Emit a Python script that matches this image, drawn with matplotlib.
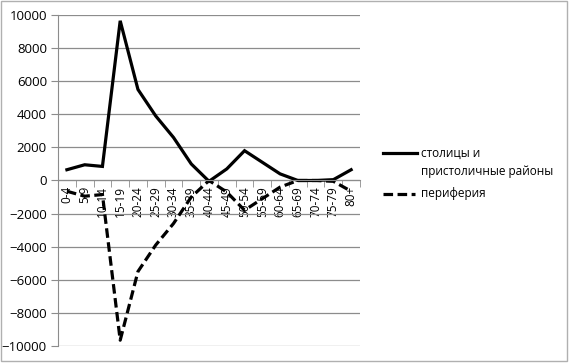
import matplotlib.pyplot as plt
from matplotlib.lines import Line2D
from matplotlib.patches import Rectangle

# age groups and net migration values
age_groups = ['0-4', '5-9', '10-14', '15-19', '20-24', '25-29', '30-34', '35-39',
              '40-44', '45-49', '50-54', '55-59', '60-64', '65-69', '70-74',
              '75-79', '80+']
capital = [650, 950, 850, 9650, 5500, 3900, 2600, 1000, -50, 700, 1800,
           1100, 400, 0, 0, 50, 650]
periphery = [-650, -950, -850, -9650, -5500, -3900, -2600, -1000, 0, -700,
             -1800, -1100, -400, 0, 0, -50, -650]
y_ticks = list(range(-10000, 10001, 2000))

plt.rcParams['font.family'] = ['Open Sans', 'DejaVu Sans']
grey = '#8c8c8c'
dash = (3, 1.4)

fig = plt.figure(figsize=(5.7, 3.64), dpi=100)
ax = fig.add_axes([0.1018, 0.0495, 0.5298, 0.9093])

x = list(range(len(age_groups)))
ax.plot(x, capital, color='black', lw=2.3, solid_joinstyle='miter')
ax.plot(x, periphery, color='black', lw=2.3, dashes=dash)

ax.set_xlim(-0.5, len(age_groups) - 0.5)
ax.set_ylim(-10000, 10000)
ax.set_yticks(y_ticks)
ax.yaxis.grid(True, color=grey, lw=0.9)
ax.set_axisbelow(True)

ax.set_xticks(x)
ax.set_xticklabels(age_groups)
ax.set_xticks([i - 0.5 for i in range(len(age_groups) + 1)], minor=True)
ax.tick_params(axis='x', which='major', length=0, pad=4, labelrotation=90, labelsize=8.5)
ax.tick_params(axis='x', which='minor', length=5, color=grey, direction='out')
ax.tick_params(axis='y', length=5, color=grey, labelsize=9.5, pad=3)

for s in ['top', 'right']:
    ax.spines[s].set_visible(False)
ax.spines['bottom'].set_position(('data', 0))
ax.spines['bottom'].set_color(grey)
ax.spines['left'].set_color(grey)

# legend
fig.add_artist(Line2D([383 / 570, 417 / 570], [1 - 153 / 364] * 2, color='black', lw=2.3))
fig.text(421 / 570, 1 - 153 / 364, 'столицы и', fontsize=8.5, va='center')
fig.text(421 / 570, 1 - 171 / 364, 'пристоличные районы', fontsize=8.5, va='center')
fig.add_artist(Line2D([383 / 570, 415 / 570], [1 - 194 / 364] * 2, color='black', lw=2.3,
                      dashes=dash))
fig.text(421 / 570, 1 - 194 / 364, 'периферия', fontsize=8.5, va='center')

# outer border
fig.add_artist(Rectangle((1 / 570, 3 / 364), 566 / 570, 360 / 364, transform=fig.transFigure,
                         fill=False, edgecolor='#b0b0b0', lw=1))

fig.savefig('out.png', dpi=100)
